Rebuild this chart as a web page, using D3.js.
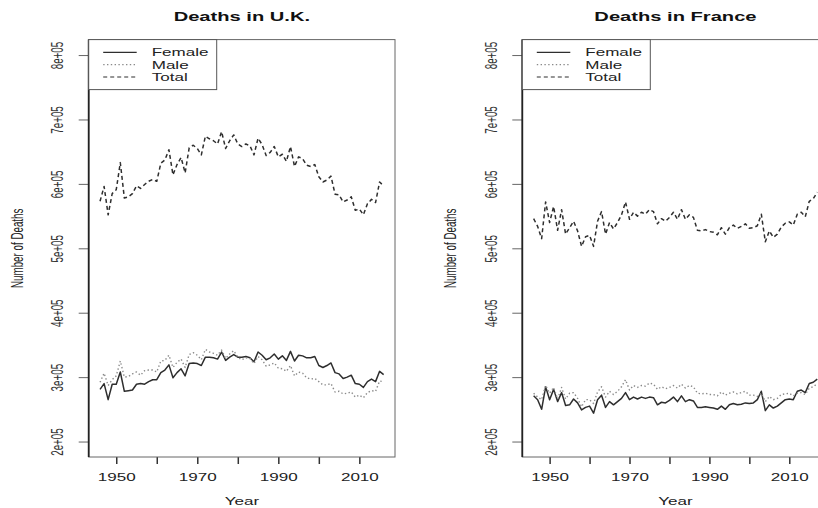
<!DOCTYPE html>
<html>
<head>
<meta charset="utf-8">
<script src="https://cdn.jsdelivr.net/npm/d3@7/dist/d3.min.js"></script>
<style>
  body { margin: 0; background: #fff; }
  svg { display: block; font-family: "Liberation Sans", Arial, sans-serif; }
</style>
</head>
<body>
<div id="chart"></div>
<script>
// ---- data (thousands of deaths) ----
const ukYears = [1946,1947,1948,1949,1950,1951,1952,1953,1954,1955,1956,1957,1958,1959,1960,
  1961,1962,1963,1964,1965,1966,1967,1968,1969,1970,1971,1972,1973,1974,1975,1976,1977,1978,
  1979,1980,1981,1982,1983,1984,1985,1986,1987,1988,1989,1990,1991,1992,1993,1994,1995,1996,
  1997,1998,1999,2000,2001,2002,2003,2004,2005,2006,2007,2008,2009,2010,2011,2012,2013,2014,
  2015,2016];
const ukFemale = [281,290,265,289,289,308,278,279,280,289,290,289,293,296,296,
  307,311,319,299,307,313,302,321,322,321,318,331,331,330,328,339,326,331,
  335,331,331,332,330,324,339,334,327,330,336,328,333,326,340,325,334,333,
  330,330,332,318,315,318,322,307,305,298,300,303,290,289,284,293,297,293,
  309,304];
const ukMale = [292,306,287,296,302,325,300,301,305,308,303,310,311,311,308,
  325,326,334,315,323,328,315,335,338,334,327,343,339,337,334,342,329,336,
  341,331,327,330,329,321,332,327,317,319,322,314,313,309,318,302,308,306,
  299,297,298,293,288,288,290,277,278,274,275,277,269,272,268,276,279,278,
  294,293];
const ukTotal = [573,596,552,585,591,633,578,580,585,597,593,599,604,607,604,
  632,637,653,614,630,641,617,656,660,655,645,674,670,667,662,681,655,667,
  676,662,658,662,659,645,671,661,644,649,658,642,646,635,658,627,642,639,
  629,627,630,611,603,606,612,584,583,572,575,580,559,561,552,569,576,571,
  603,597];

const frYears = [1946,1947,1948,1949,1950,1951,1952,1953,1954,1955,1956,1957,1958,1959,1960,
  1961,1962,1963,1964,1965,1966,1967,1968,1969,1970,1971,1972,1973,1974,1975,1976,1977,1978,
  1979,1980,1981,1982,1983,1984,1985,1986,1987,1988,1989,1990,1991,1992,1993,1994,1995,1996,
  1997,1998,1999,2000,2001,2002,2003,2004,2005,2006,2007,2008,2009,2010,2011,2012,2013,2014,
  2015,2016,2017];
const frFemale = [271,265,250,285,265,281,262,276,256,257,266,260,249,253,255,
  244,265,272,253,262,257,262,267,276,265,269,266,269,267,269,268,257,261,
  260,264,269,262,271,262,265,263,253,253,254,253,252,250,255,250,257,259,
  257,258,260,259,260,265,278,248,257,252,255,260,265,266,265,278,280,276,
  290,292,297];
const frMale = [275,269,265,287,275,284,266,284,266,275,276,267,254,265,265,
  259,277,285,269,278,273,278,285,296,280,287,284,287,286,291,289,281,285,
  282,284,287,283,289,283,287,285,275,274,275,273,273,271,277,272,275,277,
  274,276,278,272,272,270,275,262,270,265,267,273,274,275,271,275,276,273,
  283,285,290];
const frTotal = [546,534,515,572,540,565,528,560,522,532,542,527,503,518,520,
  503,542,557,522,540,530,540,552,572,545,556,550,556,553,560,557,538,546,
  542,548,556,545,560,545,552,548,528,527,529,526,525,521,532,522,532,536,
  531,534,538,531,532,535,553,510,527,517,522,533,539,541,536,553,556,549,
  573,577,587];

const yTicks = [200000,300000,400000,500000,600000,700000,800000];
const xTicks = [1950,1960,1970,1980,1990,2000,2010];
const xLabels = [1950,1970,1990,2010];
const seriesNames = ['Female','Male','Total'];

// ---- layout ----
const W = 818, H = 508;
const FS = 11;       // horizontal text size
const SX = 1.55;     // horizontal stretch of horizontal glyphs
const VFS = 9.8;     // rotated text size
const VSX = 1.75;    // stretch of rotated glyphs
const plotW = 306.3;
const plotTop = 39.6, plotBottom = 457;

const styles = {
  Female: {stroke: '#2e2e2e', width: 1.5, dash: null},
  Male:   {stroke: '#8a8a8a', width: 1.4, dash: '1.4,2.4'},
  Total:  {stroke: '#2e2e2e', width: 1.5, dash: '4,3'}
};

const svg = d3.select('#chart').append('svg')
  .attr('width', W).attr('height', H);

// horizontal text, stretched like the picture
function hText(g, x, y, str, size, weight) {
  return g.append('text')
    .attr('transform', `translate(${x},${y}) scale(${SX},1)`)
    .attr('text-anchor', 'middle')
    .style('font-size', size + 'px')
    .style('font-weight', weight || 'normal')
    .attr('fill', '#222')
    .text(str);
}

function drawPanel(opt) {
  const g = svg.append('g');
  const ext = (d3.max(opt.years) - d3.min(opt.years)) * 0.04;
  const x = d3.scaleLinear()
    .domain([d3.min(opt.years) - ext, d3.max(opt.years) + ext])
    .range([opt.left, opt.left + plotW]);
  const y = d3.scaleLinear()
    .domain([200000 - 24000, 800000 + 24000])
    .range([plotBottom, plotTop]);
  const cx = opt.left + plotW / 2;

  // clip for the lines
  const clipId = 'clip' + opt.id;
  svg.append('clipPath').attr('id', clipId)
    .append('rect').attr('x', opt.left).attr('y', plotTop)
    .attr('width', plotW).attr('height', plotBottom - plotTop);

  // series
  const data = {Female: opt.female, Male: opt.male, Total: opt.total};
  const line = d3.line()
    .x((d, i) => x(opt.years[i]))
    .y(d => y(d * 1000));
  seriesNames.forEach(name => {
    const s = styles[name];
    g.append('path')
      .attr('clip-path', `url(#${clipId})`)
      .attr('d', line(data[name]))
      .attr('fill', 'none')
      .attr('stroke', s.stroke)
      .attr('stroke-width', s.width)
      .attr('stroke-dasharray', s.dash)
      .attr('stroke-linejoin', 'round');
  });

  // y axis
  const ya = g.append('g')
    .attr('transform', `translate(${opt.left},0)`)
    .call(d3.axisLeft(y).tickValues(yTicks).tickSize(10)
      .tickFormat(d => (d / 100000) + 'e+05'));
  ya.select('.domain').remove();
  ya.selectAll('line').attr('stroke', '#666');
  ya.selectAll('text')
    .attr('x', null).attr('dy', null)
    .attr('transform', `translate(-25.5,0) scale(${VSX},1) rotate(-90)`)
    .attr('text-anchor', 'middle')
    .attr('fill', '#333')
    .style('font-size', VFS + 'px');
  ya.attr('font-family', null).attr('font-size', null);

  // x axis
  const xa = g.append('g')
    .attr('transform', `translate(0,${plotBottom})`)
    .call(d3.axisBottom(x).tickValues(xTicks).tickSize(7)
      .tickFormat(d => xLabels.includes(d) ? d : ''));
  xa.select('.domain').remove();
  xa.selectAll('line').attr('stroke', '#333').attr('stroke-width', 1.5);
  xa.selectAll('text')
    .attr('y', null).attr('dy', null)
    .attr('transform', `translate(0,23.5) scale(${SX},1)`)
    .attr('fill', '#222')
    .style('font-size', FS + 'px');
  xa.attr('font-family', null).attr('font-size', null);

  // plot box
  g.append('rect')
    .attr('x', opt.left).attr('y', plotTop)
    .attr('width', plotW).attr('height', plotBottom - plotTop)
    .attr('fill', 'none').attr('stroke', '#666').attr('stroke-width', 1);
  g.append('line')
    .attr('x1', opt.left).attr('x2', opt.left)
    .attr('y1', plotTop).attr('y2', plotBottom)
    .attr('stroke', '#222').attr('stroke-width', 1.8);

  // legend
  const lg = g.append('g').attr('transform', `translate(${opt.left},${plotTop})`);
  lg.append('rect')
    .attr('width', 128).attr('height', 50)
    .attr('fill', '#fff').attr('stroke', '#555').attr('stroke-width', 1);
  seriesNames.forEach((name, i) => {
    const s = styles[name];
    const ry = 12.7 + i * 12.35;
    lg.append('line')
      .attr('x1', 14.5).attr('x2', 48)
      .attr('y1', ry).attr('y2', ry)
      .attr('stroke', s.stroke)
      .attr('stroke-width', s.width - 0.3)
      .attr('stroke-dasharray', s.dash);
    lg.append('text')
      .attr('transform', `translate(63,${ry + 4}) scale(${SX},1)`)
      .style('font-size', FS + 'px')
      .attr('fill', '#222')
      .text(name);
  });

  // titles
  hText(g, cx, 20.5, opt.title, 13, 'bold').attr('fill', '#111');
  hText(g, cx, 504.5, 'Year', FS);
  g.append('text')
    .attr('transform', `translate(${opt.left - 66},${(plotTop + plotBottom) / 2}) scale(${VSX},1) rotate(-90)`)
    .attr('text-anchor', 'middle')
    .style('font-size', VFS + 'px')
    .attr('fill', '#222')
    .text('Number of Deaths');
}

drawPanel({id: 'uk', title: 'Deaths in U.K.', left: 88.7,
  years: ukYears, female: ukFemale, male: ukMale, total: ukTotal});
drawPanel({id: 'fr', title: 'Deaths in France', left: 522.3,
  years: frYears, female: frFemale, male: frMale, total: frTotal});
</script>
</body>
</html>
